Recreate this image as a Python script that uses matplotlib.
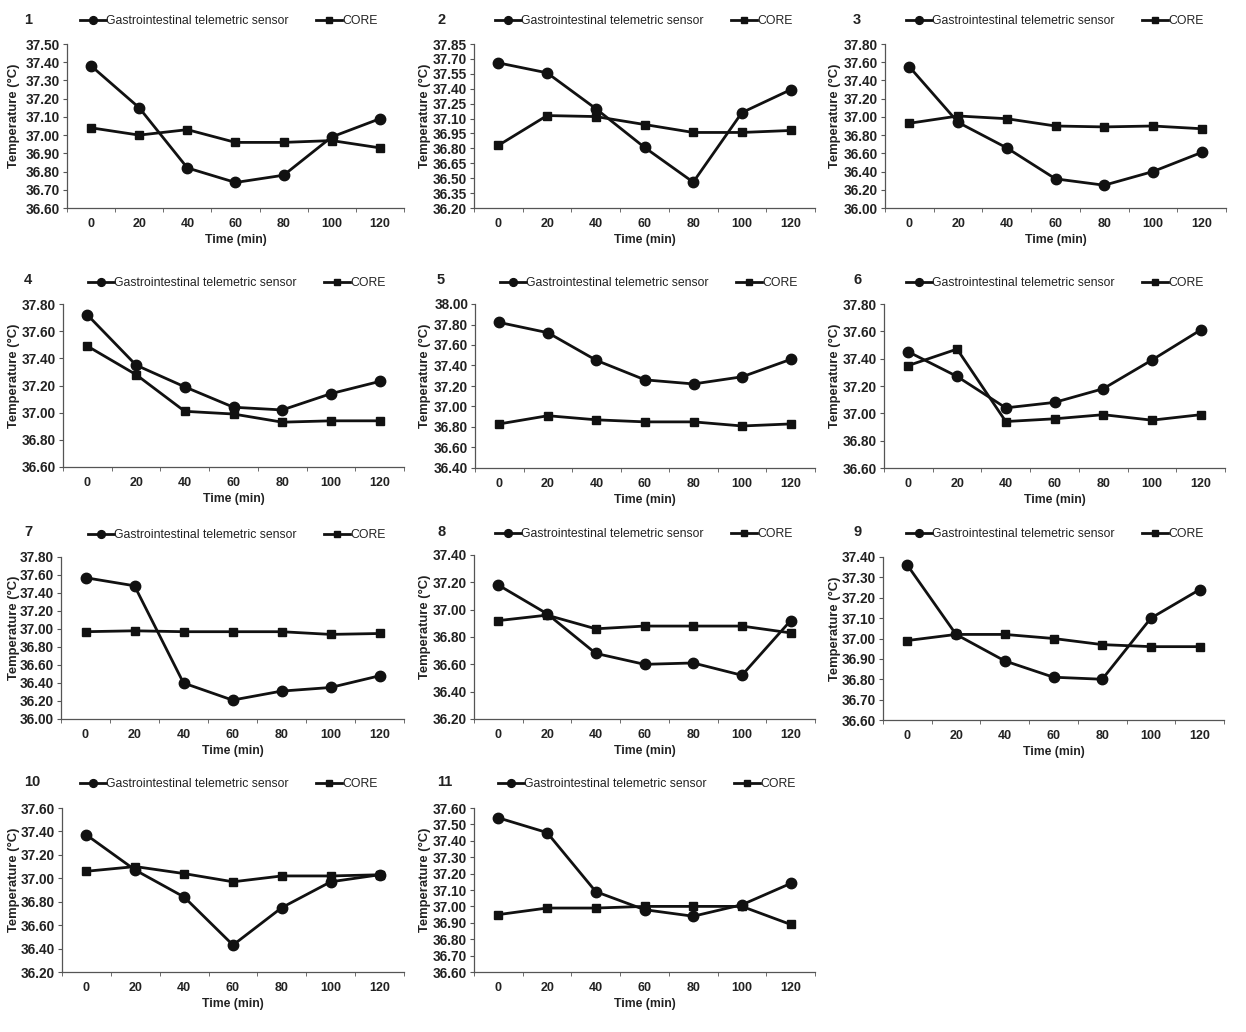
import matplotlib
matplotlib.use("Agg")
import matplotlib.pyplot as plt
from matplotlib.ticker import FixedLocator

plt.rcParams['font.family'] = ['Liberation Sans', 'DejaVu Sans']

times = [0, 20, 40, 60, 80, 100, 120]
series_names = ["Gastrointestinal telemetric sensor", "CORE"]

gi_1 = [37.38, 37.15, 36.82, 36.74, 36.78, 36.99, 37.09]
core_1 = [37.04, 37.00, 37.03, 36.96, 36.96, 36.97, 36.93]
gi_2 = [37.66, 37.56, 37.20, 36.81, 36.46, 37.16, 37.39]
core_2 = [36.83, 37.13, 37.12, 37.04, 36.96, 36.96, 36.98]
gi_3 = [37.55, 36.94, 36.66, 36.32, 36.25, 36.40, 36.61]
core_3 = [36.93, 37.01, 36.98, 36.90, 36.89, 36.90, 36.87]
gi_4 = [37.72, 37.35, 37.19, 37.04, 37.02, 37.14, 37.23]
core_4 = [37.49, 37.28, 37.01, 36.99, 36.93, 36.94, 36.94]
gi_5 = [37.82, 37.72, 37.45, 37.26, 37.22, 37.29, 37.46]
core_5 = [36.83, 36.91, 36.87, 36.85, 36.85, 36.81, 36.83]
gi_6 = [37.45, 37.27, 37.04, 37.08, 37.18, 37.39, 37.61]
core_6 = [37.35, 37.47, 36.94, 36.96, 36.99, 36.95, 36.99]
gi_7 = [37.57, 37.48, 36.40, 36.21, 36.31, 36.35, 36.48]
core_7 = [36.97, 36.98, 36.97, 36.97, 36.97, 36.94, 36.95]
gi_8 = [37.18, 36.97, 36.68, 36.60, 36.61, 36.52, 36.92]
core_8 = [36.92, 36.96, 36.86, 36.88, 36.88, 36.88, 36.83]
gi_9 = [37.36, 37.02, 36.89, 36.81, 36.80, 37.10, 37.24]
core_9 = [36.99, 37.02, 37.02, 37.00, 36.97, 36.96, 36.96]
gi_10 = [37.37, 37.07, 36.84, 36.43, 36.75, 36.97, 37.03]
core_10 = [37.06, 37.10, 37.04, 36.97, 37.02, 37.02, 37.03]
gi_11 = [37.54, 37.45, 37.09, 36.98, 36.94, 37.01, 37.14]
core_11 = [36.95, 36.99, 36.99, 37.00, 37.00, 37.00, 36.89]

gi_all = [gi_1, gi_2, gi_3, gi_4, gi_5, gi_6, gi_7, gi_8, gi_9, gi_10, gi_11]
core_all = [core_1, core_2, core_3, core_4, core_5, core_6, core_7, core_8, core_9, core_10, core_11]

# y-axis ranges (min, max, step) per panel
y_ranges = [
    (36.60, 37.50, 0.10),
    (36.20, 37.85, 0.15),
    (36.00, 37.80, 0.20),
    (36.60, 37.80, 0.20),
    (36.40, 38.00, 0.20),
    (36.60, 37.80, 0.20),
    (36.00, 37.80, 0.20),
    (36.20, 37.40, 0.20),
    (36.60, 37.40, 0.10),
    (36.20, 37.60, 0.20),
    (36.60, 37.60, 0.10),
]
panel_labels = ["1", "2", "3", "4", "5", "6", "7", "8", "9", "10", "11"]

W, H = 1246, 1032
fig = plt.figure(figsize=(W / 100, H / 100), dpi=100)
fig.patch.set_facecolor("white")

# axes boxes in pixels: left, top, right, bottom
boxes = [
    (67, 44, 404, 208), (474, 44, 815, 208), (885, 44, 1226, 208),
    (63, 304, 404, 467), (475, 304, 815, 468), (884, 304, 1225, 468),
    (61, 557, 404, 719), (474, 555, 815, 719), (883, 557, 1224, 720),
    (62, 808, 404, 972), (474, 808, 815, 972),
]
# legend anchor (left x, center y) in pixels
leg_pos = [
    (80, 21), (495, 21), (906, 21),
    (88, 283), (500, 283), (906, 283),
    (88, 535), (495, 534), (906, 534),
    (80, 784), (498, 784),
]
num_x = [24, 437, 853]
num_y = [20, 280, 532, 782]
ylab_right = [20, 431, 841]

lc = "#111111"
tc = "#222222"
for i in range(11):
    l, t, r, b = boxes[i]
    col = i % 3
    row = i // 3
    ax = fig.add_axes([l / W, 1 - b / H, (r - l) / W, (b - t) / H])
    ax.plot(times, gi_all[i], color=lc, lw=2.0, marker="o", ms=7.5,
            label=series_names[0], zorder=3)
    ax.plot(times, core_all[i], color=lc, lw=2.0, marker="s", ms=5.2,
            label=series_names[1], zorder=3)
    ymin, ymax, step = y_ranges[i]
    n = int(round((ymax - ymin) / step))
    yt = [ymin + k * step for k in range(n + 1)]
    ax.set_ylim(ymin, ymax)
    ax.set_yticks(yt)
    ax.set_yticklabels(["%.2f" % v for v in yt], fontweight="bold", fontsize=9.8, color=tc)
    ax.set_xlim(-10, 130)
    ax.set_xticks(times)
    ax.set_xticklabels([str(v) for v in times], fontweight="bold", fontsize=9.0, color=tc)
    ax.xaxis.set_minor_locator(FixedLocator([-10, 10, 30, 50, 70, 90, 110, 130]))
    ax.tick_params(axis="x", which="major", length=0, pad=7)
    ax.tick_params(axis="x", which="minor", length=3, direction="out", color="#555555")
    ax.tick_params(axis="y", which="major", length=3, direction="out", color="#555555", pad=2)
    for s in ["top", "right"]:
        ax.spines[s].set_visible(False)
    for s in ["left", "bottom"]:
        ax.spines[s].set_color("#555555")
        ax.spines[s].set_linewidth(0.9)
    ax.set_xlabel("Time (min)", fontweight="bold", fontsize=8.8, labelpad=3, color=tc)
    ax.set_ylabel("Temperature (°C)", fontweight="bold", fontsize=9.4, color=tc)
    ax.yaxis.set_label_coords((ylab_right[col] - l) / (r - l), 0.56)
    lx, ly = leg_pos[i]
    leg = ax.legend(loc="center left", bbox_to_anchor=(lx / W, 1 - ly / H),
                    bbox_transform=fig.transFigure, ncol=2, frameon=False,
                    fontsize=8.8, handlelength=2.1, handletextpad=0.05, columnspacing=2.25,
                    borderaxespad=0, borderpad=0, markerscale=0.75)
    for txt in leg.get_texts():
        txt.set_color(tc)
    fig.text(num_x[col] / W, 1 - num_y[row] / H, panel_labels[i], fontsize=10.5,
             fontweight="bold", ha="left", va="center", color=tc)

fig.savefig("out.png", dpi=100, facecolor="white")
